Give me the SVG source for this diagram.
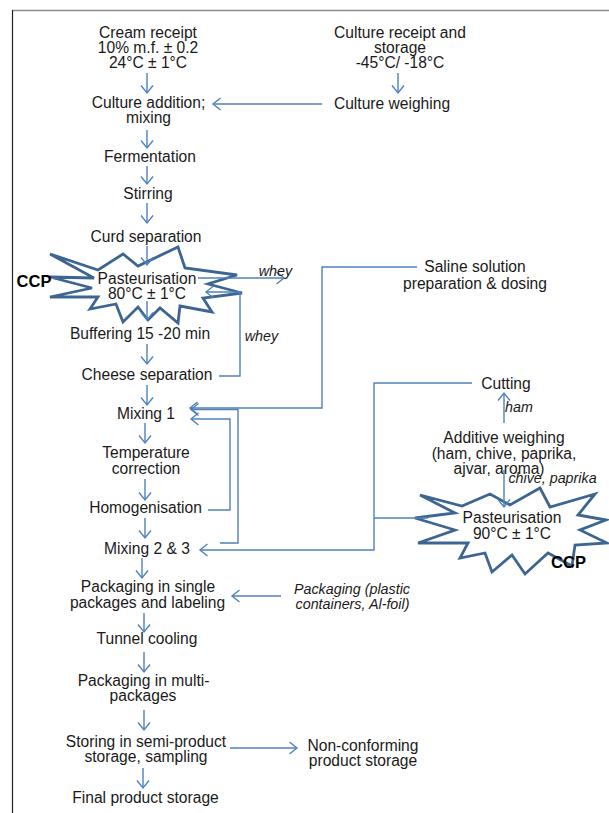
<svg xmlns="http://www.w3.org/2000/svg" width="609" height="813" viewBox="0 0 609 813">
<defs>
<style>
text{font-family:"Liberation Sans",Arial,sans-serif;font-size:15.6px;fill:#1a1a1a;text-anchor:middle}
.it{font-style:italic;font-size:14.3px}
.ccp{font-weight:bold;font-size:16.5px;fill:#000}
.c{fill:none;stroke:#4f81bd;stroke-width:1.4}
.a{marker-end:url(#ah)}
.star{fill:#fff;stroke:#3d6592;stroke-width:2.8;stroke-linejoin:miter}
</style>
<marker id="ah" markerUnits="userSpaceOnUse" viewBox="-9 -7 11 14" refX="0" refY="0" markerWidth="11" markerHeight="14" orient="auto">
<path d="M-7.5,-6 L0,0 L-7.5,6" fill="none" stroke="#4f81bd" stroke-width="1.4"/>
</marker>
</defs>
<rect width="609" height="813" fill="#fff"/>
<g id="frame">
<line x1="12.5" y1="10.5" x2="609" y2="10.5" stroke="#8a8a8a" stroke-width="1.5"/>
<line x1="12.5" y1="10" x2="12.5" y2="813" stroke="#222" stroke-width="1.2"/>
</g>
<g id="cream"><text x="148" y="38">Cream receipt</text><text x="148" y="53">10% m.f. ± 0.2</text><text x="148" y="68">24°C ± 1°C</text></g>
<g id="culture-receipt"><text x="400" y="38">Culture receipt and</text><text x="400" y="53">storage</text><text x="400" y="68">-45°C/ -18°C</text></g>
<g id="culture-weighing"><text x="392" y="109">Culture weighing</text></g>
<g id="culture-addition"><text x="148.5" y="107.5">Culture addition;</text><text x="148.5" y="122.5">mixing</text></g>
<g id="fermentation"><text x="150" y="161.5">Fermentation</text></g>
<g id="stirring"><text x="148" y="198.5">Stirring</text></g>
<g id="curd"><text x="146" y="241.5">Curd separation</text></g>
<g id="past1">
<polygon class="star" points="50,254 98,270 123,254 138,266 178,247 185,268 237,275 208,284 242,293 203,298 212,312 180,306 178,323 160,308 148,320 138,307 123,322 116,304 90,309 98,297 50,297 92,288 50,277 94,278"/>
<text x="147" y="283.5">Pasteurisation</text><text x="147" y="299">80°C ± 1°C</text>
<text class="ccp" x="34" y="287">CCP</text>
</g>
<g id="buffering"><text x="140" y="339">Buffering 15 -20 min</text></g>
<g id="cheese"><text x="147" y="380">Cheese separation</text></g>
<g id="saline"><text x="475" y="272">Saline solution</text><text x="475" y="289">preparation &amp; dosing</text></g>
<g id="mixing1"><text x="146" y="419">Mixing 1</text></g>
<g id="temp"><text x="146" y="458">Temperature</text><text x="146" y="474">correction</text></g>
<g id="homog"><text x="145.5" y="513">Homogenisation</text></g>
<g id="mixing23"><text x="147" y="554">Mixing 2 &amp; 3</text></g>
<g id="cutting"><text x="506" y="389">Cutting</text></g>
<g id="additive"><text x="504" y="443">Additive weighing</text><text x="504" y="459">(ham, chive, paprika,</text><text x="499" y="474">ajvar, aroma)</text></g>
<g id="past2">
<polygon class="star" points="420,495 462,506 490,494 510,505 540,488 550,507 595,494 578,515 606,520 580,530 607,543 575,545 572,566 548,553 525,574 512,555 492,572 485,553 460,558 468,543 418,543 455,530 415,518 455,513"/>
<text x="512" y="523">Pasteurisation</text><text x="512" y="539">90°C ± 1°C</text>
<text class="ccp" x="568.5" y="568">CCP</text>
</g>
<g id="packaging-single"><text x="148" y="592">Packaging in single</text><text x="147.5" y="608">packages and labeling</text></g>
<g id="packaging-material"><text class="it" x="352" y="594">Packaging (plastic</text><text class="it" x="352.5" y="609">containers, Al-foil)</text></g>
<g id="tunnel"><text x="147" y="644">Tunnel cooling</text></g>
<g id="multi"><text x="143.5" y="685.5">Packaging in multi-</text><text x="143" y="700.5">packages</text></g>
<g id="storing"><text x="146" y="746.5">Storing in semi-product</text><text x="146" y="762">storage, sampling</text></g>
<g id="nonconf"><text x="363" y="751">Non-conforming</text><text x="363" y="765.5">product storage</text></g>
<g id="final"><text x="145.5" y="803">Final product storage</text></g>
<g id="connectors">
<line class="c a" x1="147" y1="73" x2="147" y2="93"/>
<line class="c a" x1="147" y1="130" x2="147" y2="148"/>
<line class="c a" x1="147" y1="166" x2="147" y2="184"/>
<line class="c a" x1="147" y1="203" x2="147" y2="223"/>
<line class="c a" x1="147" y1="246" x2="147" y2="265"/>
<line class="c a" x1="147" y1="301" x2="147" y2="320"/>
<line class="c a" x1="147" y1="344" x2="147" y2="364"/>
<line class="c a" x1="147" y1="385" x2="147" y2="405"/>
<line class="c a" x1="145" y1="423" x2="145" y2="443"/>
<line class="c a" x1="145" y1="479" x2="145" y2="500"/>
<line class="c a" x1="145" y1="518" x2="145" y2="538"/>
<line class="c a" x1="142" y1="558" x2="142" y2="578"/>
<line class="c a" x1="144" y1="613" x2="144" y2="632"/>
<line class="c a" x1="144" y1="652" x2="144" y2="672"/>
<line class="c a" x1="144" y1="710" x2="144" y2="730"/>
<line class="c a" x1="143" y1="768" x2="143" y2="788"/>
<line class="c a" x1="398" y1="73" x2="398" y2="93"/>
<line class="c a" x1="322" y1="104" x2="213" y2="104"/>
<line class="c a" x1="198" y1="278" x2="284" y2="278"/>
<polyline class="c a" points="219,376 240,376 240,292 206,292"/>
<polyline class="c a" points="417,267 322,267 322,408 190,408"/>
<polyline class="c a" points="220,543 238,543 238,409.5 191,409.5"/>
<polyline class="c a" points="208,510 230,510 230,419 191,419"/>
<polyline class="c a" points="472,383 374,383 374,550 200,550"/>
<line class="c" x1="428" y1="518" x2="374" y2="518"/>
<line class="c a" x1="504" y1="423" x2="504" y2="393"/>
<line class="c a" x1="504" y1="470" x2="504" y2="507"/>
<line class="c a" x1="281" y1="596" x2="232" y2="596"/>
<line class="c a" x1="230" y1="748" x2="297" y2="748"/>
</g>
<g id="labels">
<text class="it" x="275.5" y="276">whey</text>
<text class="it" x="261.5" y="341">whey</text>
<text class="it" x="519" y="412">ham</text>
<text class="it" x="552.5" y="483">chive, paprika</text>
</g>
</svg>
